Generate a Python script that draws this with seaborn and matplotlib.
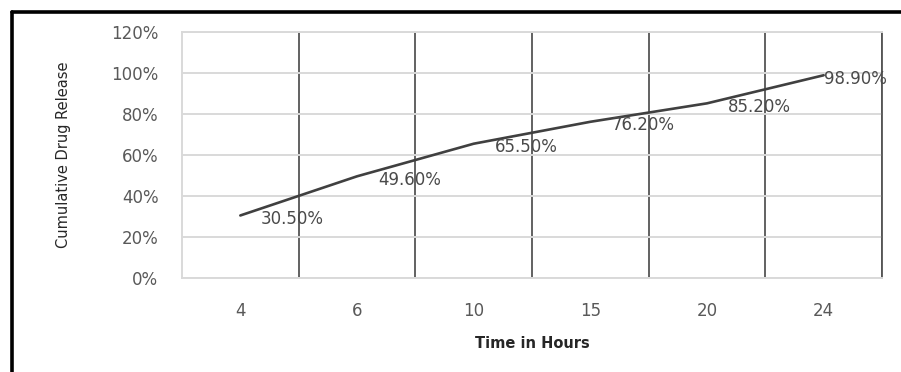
import matplotlib
matplotlib.use("Agg")
import matplotlib.pyplot as plt
from matplotlib.lines import Line2D
from matplotlib.ticker import PercentFormatter, FixedLocator
import seaborn as sns
import pandas as pd

# Release profile data
hours = ["4", "6", "10", "15", "20", "24"]
release_pct = [30.5, 49.6, 65.5, 76.2, 85.2, 98.9]
y_ticks = [0, 20, 40, 60, 80, 100, 120]

df = pd.DataFrame({"hours": hours, "release": release_pct})

sns.set_theme(style="white")
plt.rcParams["font.family"] = ["DejaVu Sans"]

fig = plt.figure(figsize=(9.01, 3.72), dpi=100)
ax = fig.add_axes([182 / 901, 1 - 278 / 372, 700 / 901, 246 / 372])

sns.lineplot(data=df, x="hours", y="release", sort=False, ax=ax,
             color="#404040", linewidth=1.9, zorder=5)

# value labels to the right of each point
for i, v in enumerate(release_pct):
    dx = 0 if i == len(release_pct) - 1 else 15
    ax.annotate(f"{v:.2f}%", (i, v), xytext=(dx, -2.5), textcoords="offset points",
                ha="left", va="center", fontsize=12, color="#4a4a4a", zorder=6)

ax.set_xlim(-0.5, len(hours) - 0.5)
ax.set_ylim(0, 120)
ax.yaxis.set_major_locator(FixedLocator(y_ticks))
ax.yaxis.set_major_formatter(PercentFormatter(decimals=0))

# horizontal light gridlines, dark vertical lines between categories
ax.grid(axis="y", color="#d9d9d9", linewidth=1.4)
ax.set_xticks([i + 0.5 for i in range(len(hours))], minor=True)
ax.grid(axis="x", which="minor", color="#555555", linewidth=1.3)
ax.grid(axis="x", which="major", visible=False)
ax.set_axisbelow(True)

for side in ["left", "bottom", "top"]:
    ax.spines[side].set_color("#d9d9d9")
    ax.spines[side].set_linewidth(1.4)
ax.spines["right"].set_color("#555555")
ax.spines["right"].set_linewidth(1.3)

ax.tick_params(axis="both", which="both", length=0)
ax.tick_params(axis="y", pad=17, labelsize=12, labelcolor="#595959")
ax.tick_params(axis="x", pad=17, labelsize=12, labelcolor="#595959")

ax.set_xlabel("Time in Hours", fontsize=10.5, fontweight="bold", color="#262626", labelpad=12)
ax.set_ylabel("Cumulative Drug Release", fontsize=10.5, color="#262626", labelpad=29)

# outer chart frame
fig.add_artist(Line2D([11.5 / 901, 11.5 / 901], [0, 1 - 12 / 372],
                      transform=fig.transFigure, color="black", linewidth=2.6))
fig.add_artist(Line2D([11.5 / 901, 1], [1 - 12 / 372, 1 - 12 / 372],
                      transform=fig.transFigure, color="black", linewidth=2.6))

fig.savefig("out.png", dpi=100, facecolor="white")
